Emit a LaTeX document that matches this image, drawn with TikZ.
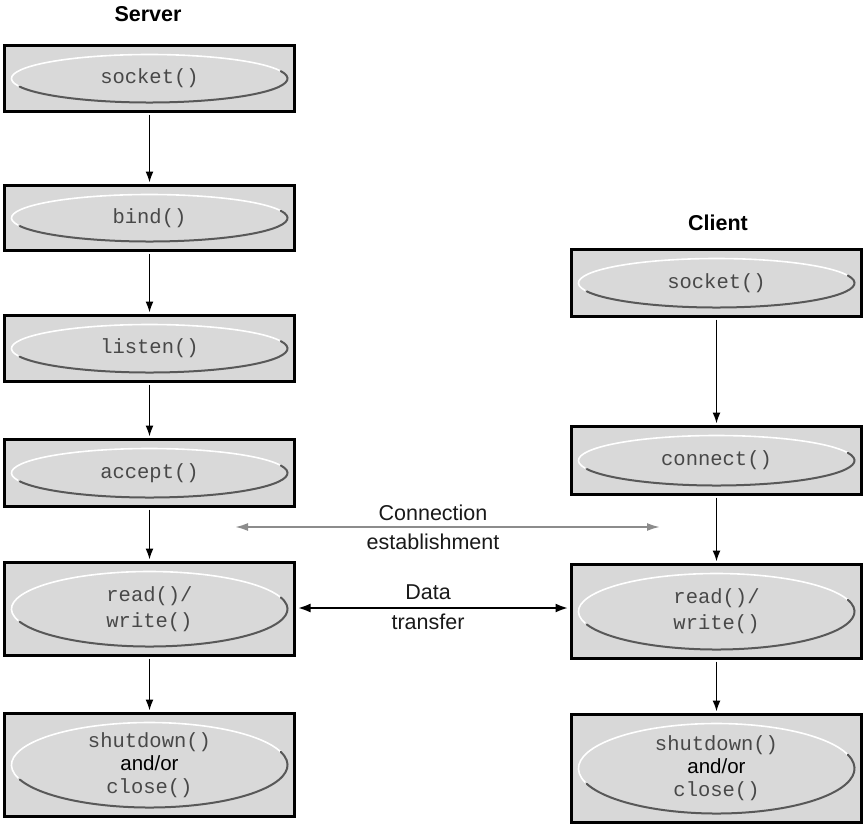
\documentclass[tikz,border=0pt]{standalone}
\usepackage{fontspec}
\setmainfont{Liberation Sans}
\setmonofont{Liberation Mono}
\usetikzlibrary{arrows.meta,calc}

\definecolor{boxgray}{HTML}{D8D8D8}
\definecolor{ellgray}{HTML}{D9D9D9}
\definecolor{shadegray}{HTML}{585858}
\definecolor{codegray}{HTML}{484848}
\definecolor{linkgray}{HTML}{8C8C8C}

\tikzset{
  callbox/.style={draw=black, line width=3pt, fill=boxgray, minimum width=290pt,
    inner sep=0pt, align=center, text=codegray,
    font=\fontsize{20.5}{23}\selectfont\ttfamily,
    path picture={
      \pgfpointdiff{\pgfpointanchor{path picture bounding box}{south west}}%
                   {\pgfpointanchor{path picture bounding box}{north east}}%
      \pgfgetlastxy{\bw}{\bh}%
      \pgfmathsetmacro{\erx}{\bw/2-7}%
      \pgfmathsetmacro{\ery}{\bh/2-9}%
      \fill[ellgray] (path picture bounding box.center)
        ellipse [x radius=\erx pt, y radius=\ery pt];
      \draw[white, line width=1.6pt]
        ($(path picture bounding box.center)+(198:\erx pt and \ery pt)$)
        arc [start angle=198, end angle=15, x radius=\erx pt, y radius=\ery pt];
      \draw[shadegray, line width=2pt, line cap=round]
        ($(path picture bounding box.center)+(200:\erx pt and \ery pt)$)
        arc [start angle=200, end angle=378, x radius=\erx pt, y radius=\ery pt];
    }},
  title/.style={font=\fontsize{21.5}{24}\selectfont\bfseries, text=black},
  label/.style={font=\fontsize{21.5}{24}\selectfont, text=black!90},
  flow/.style={line width=1.6pt, -{Latex[length=11pt,width=8pt]}, shorten >=1.5pt, shorten <=1.5pt},
  setup/.style={draw=linkgray, line width=2pt, {Latex[length=13pt,width=8pt]}-{Latex[length=13pt,width=8pt]}},
  transfer/.style={draw=black, line width=2.5pt, {Latex[length=13pt,width=9pt]}-{Latex[length=13pt,width=9pt]}, shorten >=1.5pt, shorten <=1.5pt},
}

\newcommand{\andor}{{\rmfamily\color{black}and/or}}

\begin{document}
\begin{tikzpicture}[x=1pt, y=-1pt]
  \useasboundingbox (0,0) rectangle (864,827);

  % Server column
  \node[title] (server) at (148,14) {Server};
  \node[callbox, minimum height=66pt]  (s1) at (149.5,78.5) {socket()};
  \node[callbox, minimum height=65pt]  (s2) at (149.5,218)  {bind()};
  \node[callbox, minimum height=66pt]  (s3) at (149.5,348.5) {listen()};
  \node[callbox, minimum height=67pt]  (s4) at (149.5,473)  {accept()};
  \node[callbox, minimum height=93pt]  (s5) at (149.5,609)  {read()/\\[3pt]write()};
  \node[callbox, minimum height=103pt] (s6) at (149.5,765)  {shutdown()\\\andor\\close()};

  % Client column
  \node[title] (client) at (718,223) {Client};
  \node[callbox, minimum height=67pt]  (c1) at (716.5,283)   {socket()};
  \node[callbox, minimum height=68pt]  (c2) at (716.5,460.5) {connect()};
  \node[callbox, minimum height=94pt]  (c3) at (716.5,611.5) {read()/\\[3pt]write()};
  \node[callbox, minimum height=108pt] (c4) at (716.5,768.5) {shutdown()\\\andor\\close()};

  % call sequence
  \draw[flow] (s1) -- (s2);
  \draw[flow] (s2) -- (s3);
  \draw[flow] (s3) -- (s4);
  \draw[flow] (s4) -- (s5);
  \draw[flow] (s5) -- (s6);
  \draw[flow] (c1) -- (c2);
  \draw[flow] (c2) -- (c3);
  \draw[flow] (c3) -- (c4);

  % connection establishment
  \coordinate (ceL) at (235,527);
  \coordinate (ceR) at (660,527);
  \draw[setup] (ceL) -- (ceR);
  \node[label] (ce1) at (433,513) {Connection};
  \node[label] (ce2) at (433,542) {establishment};

  % data transfer
  \draw[transfer] (s5.east |- 0,608) -- (c3.west |- 0,608);
  \node[label] (dt1) at (428,592) {Data};
  \node[label] (dt2) at (428,622) {transfer};
\end{tikzpicture}
\end{document}
